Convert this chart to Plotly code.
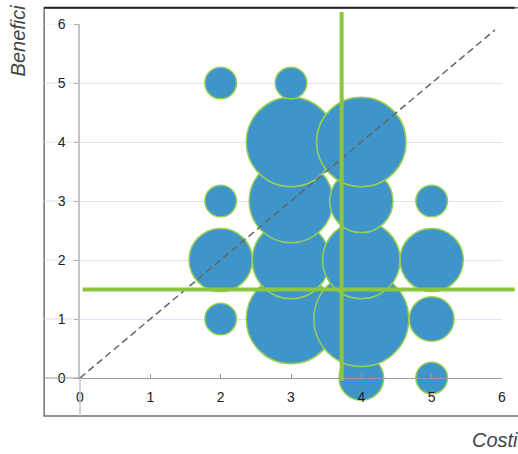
import plotly.graph_objects as go

# ---- data ----
costi = [4, 5, 2, 3, 4, 5, 2, 3, 4, 5, 2, 3, 4, 5, 3, 4, 2, 3]
benefici = [0, 0, 1, 1, 1, 1, 2, 2, 2, 2, 3, 3, 3, 3, 4, 4, 5, 5]
conteggio = [2, 1, 1, 8, 9, 2, 4, 6, 6, 4, 1, 7, 4, 1, 8, 8, 1, 1]

tick_vals = [0, 1, 2, 3, 4, 5, 6]
diag_x = [0, 5.9]
diag_y = [0, 5.9]
soglia_costi = 3.72
soglia_benefici = 1.5

BLUE = "#3f94c9"
GREEN_EDGE = "#97cf55"
GREEN_LINE = "#8cc63f"

fig = go.Figure()
fig.add_trace(go.Scatter(
    x=costi, y=benefici, mode="markers",
    marker=dict(size=conteggio, sizemode="area", sizeref=1 / 500,
                color=BLUE, opacity=1,
                line=dict(color=GREEN_EDGE, width=1.5)),
    cliponaxis=False, hoverinfo="x+y+text", text=conteggio, showlegend=False,
))
fig.add_trace(go.Scatter(
    x=diag_x, y=diag_y, mode="lines",
    line=dict(color="#666666", width=1.5, dash="7px,4px"),
    showlegend=False, hoverinfo="skip",
))

# frame (paper coords)
fx0, fx1, fy0, fy1 = -0.085, 1.03, -0.107, 1.046
shapes = [
    dict(type="rect", xref="paper", yref="paper", x0=fx0, x1=fx1 + 0.05, y0=fy0, y1=fy1,
         line=dict(color="#707070", width=1.5), fillcolor="rgba(0,0,0,0)", layer="below"),
    dict(type="path", xref="paper", yref="paper",
         path=f"M {fx0},{fy1} L {fx1},{fy1}",
         line=dict(color="#222222", width=2)),
    # axis line extensions
    dict(type="line", xref="paper", yref="paper", x0=0, x1=0, y0=fy0, y1=0,
         line=dict(color="#c4c4c4", width=1.5)),
    dict(type="line", xref="paper", yref="paper", x0=fx0, x1=0, y0=0, y1=0,
         line=dict(color="#9a9a9a", width=1)),
]
for v in tick_vals[1:]:
    shapes.append(dict(type="line", xref="paper", yref="y", x0=fx0, x1=0, y0=v, y1=v,
                       line=dict(color="#dce6f2", width=1), layer="below"))
# threshold lines
shapes.append(dict(type="line", xref="x", yref="paper", x0=soglia_costi, x1=soglia_costi,
                   y0=-0.008, y1=1.034, line=dict(color=GREEN_LINE, width=4)))
shapes.append(dict(type="line", xref="paper", yref="y", x0=0.006, x1=fx1,
                   y0=soglia_benefici, y1=soglia_benefici, line=dict(color=GREEN_LINE, width=4)))

fig.update_layout(
    width=518, height=454,
    margin=dict(l=80, r=12, t=24, b=76),
    paper_bgcolor="white", plot_bgcolor="white",
    font=dict(family="Liberation Sans, Arial, sans-serif", size=14, color="#222222"),
    shapes=shapes,
    xaxis=dict(range=[0, 6], tickvals=tick_vals, ticks="inside", ticklen=4,
               tickcolor="#9a9a9a", showline=True, linecolor="#9a9a9a", linewidth=1,
               showgrid=False, zeroline=False, ticklabelstandoff=6),
    yaxis=dict(range=[0, 6], tickvals=tick_vals, ticks="outside", ticklen=4,
               tickcolor="#b0b0b0", showline=True, linecolor="#c4c4c4", linewidth=1.5,
               showgrid=True, gridcolor="#dce6f2", gridwidth=1, zeroline=False,
               ticklabelstandoff=6),
    annotations=[
        dict(text="<i>Benefici</i>", xref="paper", yref="paper", x=-0.146, y=1.062,
             xanchor="center", yanchor="top", textangle=-90, showarrow=False,
             font=dict(size=20, color="#444444")),
        dict(text="<i>Costi</i>", xref="paper", yref="paper", x=1.042, y=-0.175,
             xanchor="right", yanchor="middle", showarrow=False,
             font=dict(size=20, color="#444444")),
    ],
)

fig.write_html("out.html", config={"displayModeBar": False},
               post_script="document.body.style.margin='0';document.body.style.overflow='hidden';")
